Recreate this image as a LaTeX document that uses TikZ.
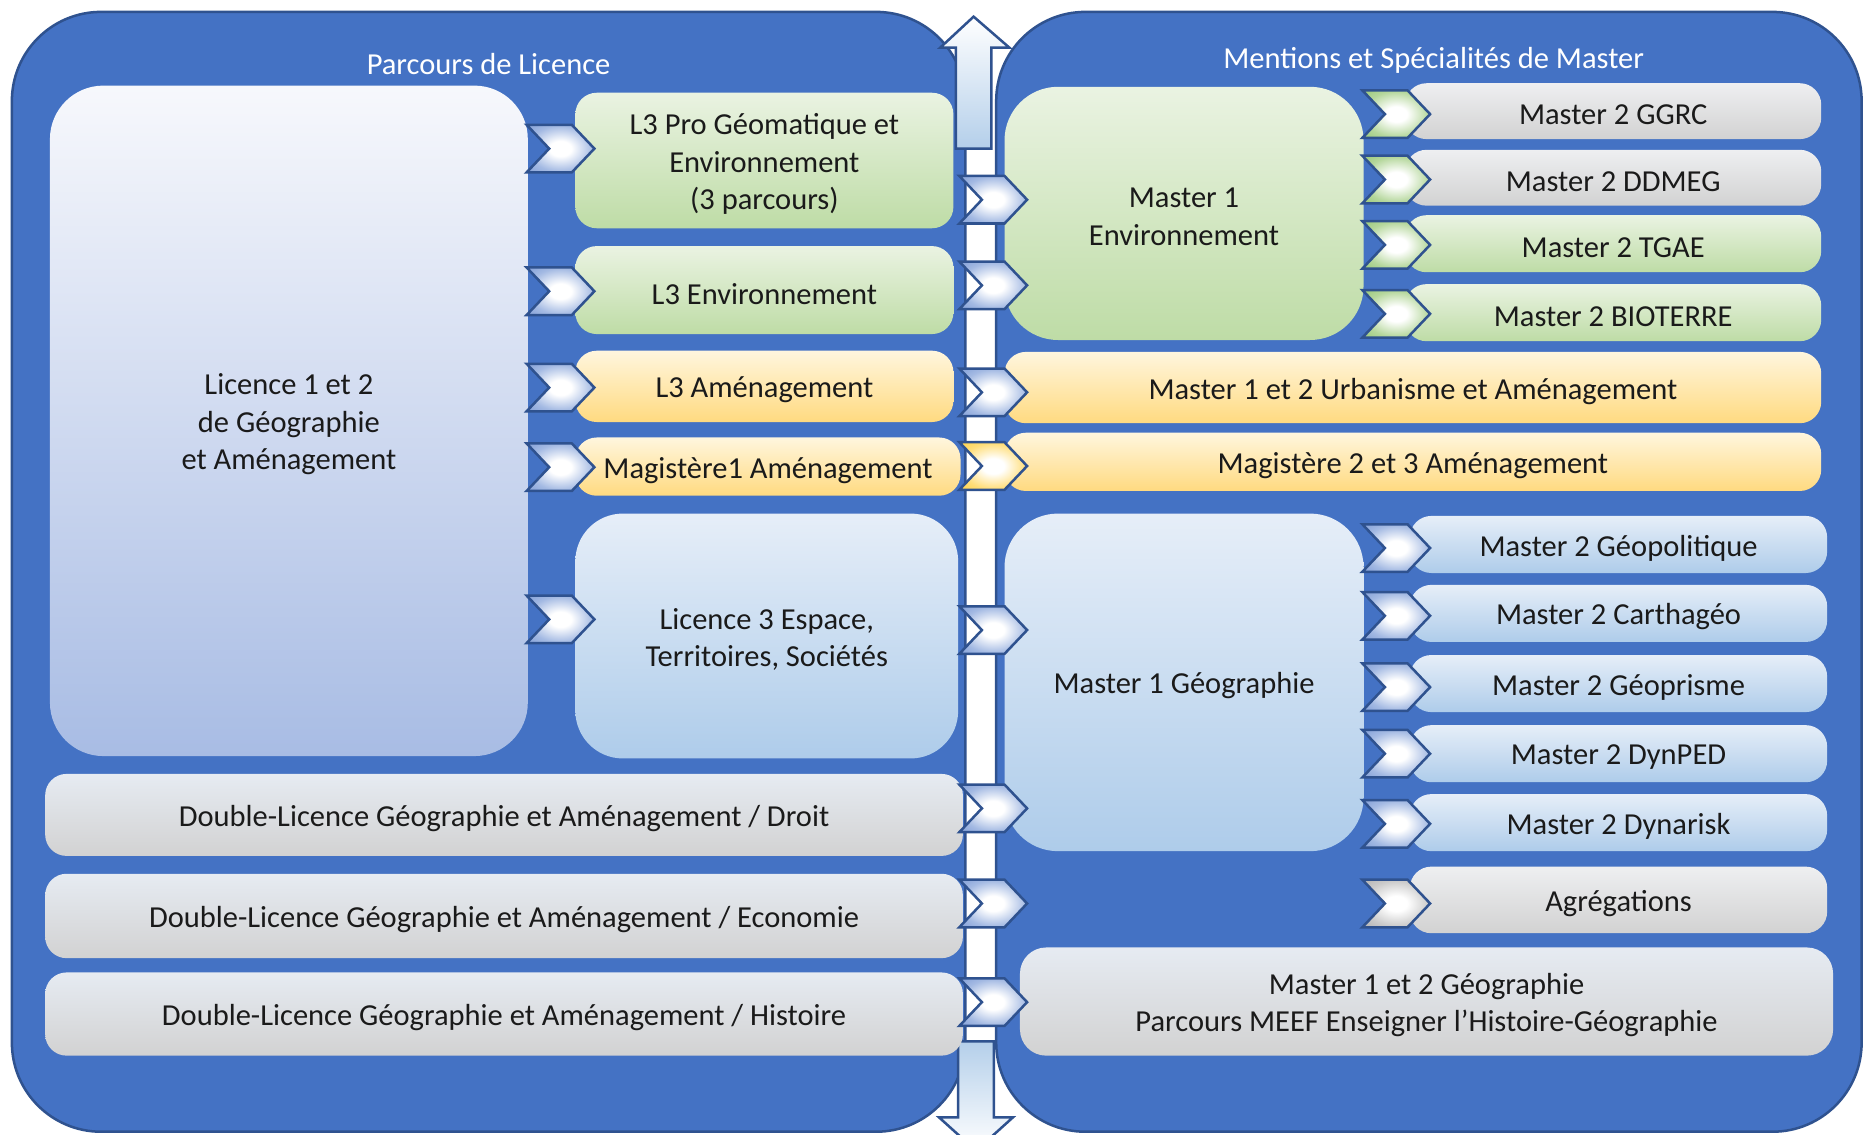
\documentclass[tikz,border=0pt]{standalone}
\usepackage{fontspec}
\setmainfont{Carlito}
\usetikzlibrary{shapes.symbols}
\definecolor{pblue}{HTML}{4472C4}
\definecolor{pline}{HTML}{2F528F}
\definecolor{gT}{HTML}{EAF3E2}
\definecolor{gB}{HTML}{BEDCA6}
\definecolor{yT}{HTML}{FFF6DE}
\definecolor{yB}{HTML}{FFDA80}
\definecolor{bT}{HTML}{E6EEF8}
\definecolor{bB}{HTML}{AECCEA}
\definecolor{lT}{HTML}{F7F8FC}
\definecolor{lB}{HTML}{A8BCE4}
\definecolor{grT}{HTML}{E6EBF2}
\definecolor{grB}{HTML}{D2D2D2}
\definecolor{gyT}{HTML}{EEEFF1}
\definecolor{cB1}{HTML}{A4BAE3}
\definecolor{cB2}{HTML}{7393D2}
\definecolor{cG1}{HTML}{B5D79C}
\definecolor{cG2}{HTML}{8DC26A}
\definecolor{cY1}{HTML}{FFDE7A}
\definecolor{cY2}{HTML}{FFCC33}
\definecolor{cR1}{HTML}{CACACA}
\definecolor{cR2}{HTML}{A8A8A8}
\definecolor{arrB}{HTML}{B4CFEA}
\definecolor{txt}{HTML}{1A1A1A}
\pgfdeclareradialshading{chB}{\pgfpoint{0bp}{0bp}}{color(0bp)=(white); color(8bp)=(white); color(24bp)=(cB1); color(40bp)=(cB2); color(100bp)=(cB2)}
\pgfdeclareradialshading{chG}{\pgfpoint{0bp}{0bp}}{color(0bp)=(white); color(8bp)=(white); color(24bp)=(cG1); color(40bp)=(cG2); color(100bp)=(cG2)}
\pgfdeclareradialshading{chY}{\pgfpoint{0bp}{0bp}}{color(0bp)=(white); color(8bp)=(white); color(24bp)=(cY1); color(40bp)=(cY2); color(100bp)=(cY2)}
\pgfdeclareradialshading{chR}{\pgfpoint{0bp}{0bp}}{color(0bp)=(white); color(8bp)=(white); color(24bp)=(cR1); color(40bp)=(cR2); color(100bp)=(cR2)}
\newcommand\fs{\fontsize{7.3}{9}\selectfont}
\newcommand\bx[7]{\node[#1, minimum width={(#5-#3)*0.1mm}, minimum height={(#6-#4)*0.1mm}] (#2) at ({(#3+#5)/2},{(#4+#6)/2}) {};
  \node[boxtext] (#2-t) at ([yshift=-0.3mm]#2.center) {#7};}
\newcommand\chv[4]{\node[chev=#4] (#1) at ({#2+28.5},#3) {};}
\begin{document}
\begin{tikzpicture}[x=0.1mm,y=-0.1mm,
  panel/.style={fill=pblue, draw=pline, line width=0.6pt, rounded corners=7.5mm},
  box/.style={rounded corners=1.8mm, inner sep=0pt},
  boxtext/.style={inner sep=0pt, align=center, font=\fs, text=txt},
  bigbox/.style={box, rounded corners=4.5mm},
  gbox/.style={box, top color=gT, bottom color=gB},
  ybox/.style={box, top color=yT, bottom color=yB},
  bbox/.style={box, top color=bT, bottom color=bB},
  grbox/.style={box, top color=grT, bottom color=grB},
  gybox/.style={box, top color=gyT, bottom color=grB},
  title/.style={font=\fs, text=white},
  chev/.style={signal, signal from=west, signal to=east, signal pointer angle=93,
    minimum width=5.7mm, minimum height=4mm, inner sep=0pt, draw=pline, line width=0.6pt,
    shade, shading=#1},
  bigarrow/.style={draw=pline, line width=0.6pt}
]
\useasboundingbox (0,0) rectangle (1568,954);
\clip (0,0) rectangle (1568,954);
% panels
\draw[panel] (10,10) rectangle (812,952);
\draw[panel] (838,10) rectangle (1566,952);
% double arrow parts
\path[bigarrow, top color=white, bottom color=arrB]
  (804,125) -- (804,40) -- (791,40) -- (819,14) -- (849,40) -- (834,40) -- (834,125) -- cycle;
\path[bigarrow, top color=arrB, bottom color=white]
  (806,876) -- (806,940) -- (790,940) -- (821,968) -- (852,940) -- (836,940) -- (836,876) -- cycle;
% titles
\node[title] (tL) at (411,54) {Parcours de Licence};
\node[title] (tR) at (1206,51) {Mentions et Spécialités de Master};
% left boxes
\bx{bigbox, top color=lT, bottom color=lB}{lic12}{42}{72}{444}{636}{Licence 1 et 2\\de Géographie\\et Aménagement}
\bx{gbox}{l3pro}{484}{78}{802}{192}{L3 Pro Géomatique et\\Environnement\\(3 parcours)}
\bx{gbox}{l3env}{484}{207}{802}{281}{L3 Environnement}
\bx{ybox}{l3am}{484}{295}{802}{355}{L3 Aménagement}
\bx{ybox}{mag1}{484}{368}{808}{417}{Magistère1 Aménagement}
\bx{bbox, rounded corners=4mm}{l3ets}{484}{432}{806}{638}{Licence 3 Espace,\\Territoires, Sociétés}
\bx{grbox}{dlD}{38}{651}{810}{720}{Double-Licence Géographie et Aménagement / Droit}
\bx{grbox}{dlE}{38}{735}{810}{806}{Double-Licence Géographie et Aménagement / Economie}
\bx{grbox}{dlH}{38}{818}{810}{888}{Double-Licence Géographie et Aménagement / Histoire}
% right boxes
\bx{gbox, rounded corners=4.5mm}{m1env}{845}{73}{1147}{286}{Master 1\\Environnement}
\bx{gybox}{ggrc}{1182}{70}{1532}{117}{Master 2 GGRC}
\bx{gybox}{ddmeg}{1182}{126}{1532}{173}{Master 2 DDMEG}
\bx{gbox}{tgae}{1182}{181}{1532}{229}{Master 2 TGAE}
\bx{gbox}{bioterre}{1182}{239}{1532}{287}{Master 2 BIOTERRE}
\bx{ybox}{m12ua}{845}{296}{1532}{356}{Master 1 et 2 Urbanisme et Aménagement}
\bx{ybox}{mag23}{845}{364}{1532}{413}{Magistère 2 et 3 Aménagement}
\bx{bbox, rounded corners=4.5mm}{m1geo}{845}{432}{1147}{716}{Master 1 Géographie}
\bx{bbox}{geopol}{1186}{434}{1537}{482}{Master 2 Géopolitique}
\bx{bbox}{carth}{1186}{492}{1537}{540}{Master 2 Carthagéo}
\bx{bbox}{geopr}{1186}{551}{1537}{599}{Master 2 Géoprisme}
\bx{bbox}{dynped}{1186}{610}{1537}{658}{Master 2 DynPED}
\bx{bbox}{dynar}{1186}{668}{1537}{716}{Master 2 Dynarisk}
\bx{gybox}{agreg}{1186}{729}{1537}{785}{Agrégations}
\bx{grbox, rounded corners=2.2mm}{meef}{858}{797}{1542}{888}{Master 1 et 2 Géographie\\Parcours MEEF Enseigner l’Histoire-Géographie}
% left chevrons
\chv{cl1}{443}{125}{chB}
\chv{cl2}{443}{245}{chB}
\chv{cl3}{443}{326}{chB}
\chv{cl4}{443}{393}{chB}
\chv{cl5}{443}{521}{chB}
% middle chevrons
\chv{cm1}{807}{168}{chB}
\chv{cm2}{807}{240}{chB}
\chv{cm3}{807}{330}{chB}
\chv{cm4}{807}{392}{chY}
\chv{cm5}{807}{530}{chB}
\chv{cm6}{807}{680}{chB}
\chv{cm7}{807}{760}{chB}
\chv{cm8}{807}{843}{chB}
% right chevrons
\chv{cr1}{1146}{96}{chG}
\chv{cr2}{1146}{151}{chG}
\chv{cr3}{1146}{206}{chG}
\chv{cr4}{1146}{264}{chG}
\chv{cr5}{1146}{461}{chB}
\chv{cr6}{1146}{518}{chB}
\chv{cr7}{1146}{578}{chB}
\chv{cr8}{1146}{634}{chB}
\chv{cr9}{1146}{693}{chB}
\chv{cr10}{1146}{760}{chR}
\end{tikzpicture}
\end{document}
